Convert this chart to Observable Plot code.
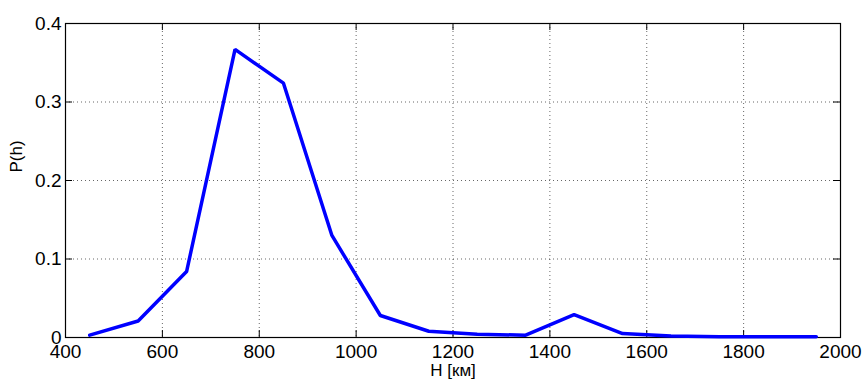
<!DOCTYPE html>
<html>
<head>
<meta charset="utf-8">
<script src="https://cdn.jsdelivr.net/npm/d3@7"></script>
<script src="https://cdn.jsdelivr.net/npm/@observablehq/plot@0.6"></script>
<style>
  html, body { margin: 0; padding: 0; background: #fff; }
  svg { display: block; }
</style>
</head>
<body>
<div id="chart"></div>
<script>
const H = [450, 550, 650, 750, 850, 950, 1050, 1150, 1250, 1350, 1450, 1550, 1650, 1750, 1850, 1950];
const P = [0.003, 0.021, 0.084, 0.367, 0.324, 0.13, 0.028, 0.008, 0.004, 0.003, 0.029, 0.005, 0.002, 0.001, 0.001, 0.001];
const xTicks = [400, 600, 800, 1000, 1200, 1400, 1600, 1800, 2000];
const yTicks = [0, 0.1, 0.2, 0.3, 0.4];
const xGrid = [600, 800, 1000, 1200, 1400, 1600, 1800];
const yGrid = [0.1, 0.2, 0.3];
const xLabel = "H [км]";
const yLabel = "P(h)";

const data = H.map((h, i) => ({h, p: P[i]}));

const W = 864, HT = 381;
const mL = 65, mR = 24, mT = 23, mB = 44;
const innerW = W - mL - mR, innerH = HT - mT - mB;
const tk = 7;

const chart = Plot.plot({
  width: W,
  height: HT,
  marginLeft: mL,
  marginRight: mR,
  marginTop: mT,
  marginBottom: mB,
  style: {fontFamily: "'Liberation Sans', Arial, sans-serif", fontSize: "19px", color: "#000", background: "#fff"},
  x: {domain: [400, 2000]},
  y: {domain: [0, 0.4]},
  marks: [
    Plot.ruleX(xGrid, {x: d => d, stroke: "#000", strokeWidth: 0.8, strokeDasharray: "1,3", strokeOpacity: 0.75}),
    Plot.ruleY(yGrid, {y: d => d, stroke: "#000", strokeWidth: 0.8, strokeDasharray: "1,3", strokeOpacity: 0.75}),
    Plot.tickX(xTicks, {x: d => d, insetTop: innerH - tk, stroke: "#000"}),
    Plot.tickX(xTicks, {x: d => d, insetBottom: innerH - tk, stroke: "#000"}),
    Plot.tickY(yTicks, {y: d => d, insetRight: innerW - tk, stroke: "#000"}),
    Plot.tickY(yTicks, {y: d => d, insetLeft: innerW - tk, stroke: "#000"}),
    Plot.frame({stroke: "#000", strokeWidth: 1.2}),
    Plot.line(data, {x: "h", y: "p", stroke: "#0000ff", strokeWidth: 3.5, strokeLinejoin: "miter"}),
    Plot.axisX(xTicks, {tickSize: 0, tickPadding: 7, fontSize: 19, label: null, tickFormat: d => String(d)}),
    Plot.axisY(yTicks, {tickSize: 0, tickPadding: 4, fontSize: 19, label: null, tickFormat: d => d === 0 ? "0" : d.toFixed(1)}),
    Plot.text([xLabel], {text: d => d, frameAnchor: "bottom", dy: 38, fontSize: 17, fill: "#000"}),
    Plot.text([yLabel], {text: d => d, frameAnchor: "left", dx: -49, dy: -8, rotate: -90, fontSize: 17, fill: "#000"})
  ]
});
document.getElementById("chart").appendChild(chart);
</script>
</body>
</html>
